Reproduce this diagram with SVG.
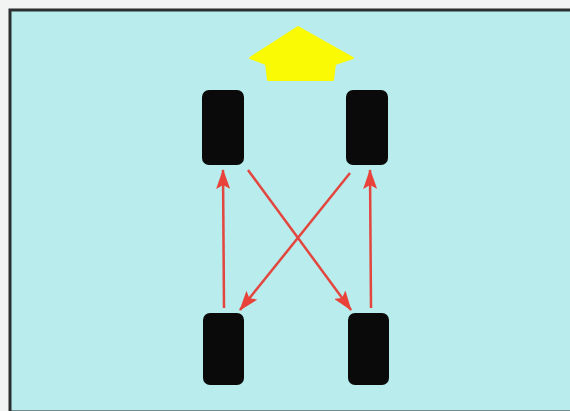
<svg xmlns="http://www.w3.org/2000/svg" width="570" height="411" viewBox="0 0 570 411">
<defs>
<style>
.tire{fill:#0a0a0a}
.conn{stroke:#e2463f;stroke-width:2.5;fill:none;marker-end:url(#ah)}
</style>
<marker id="ah" viewBox="0 0 20 14" refX="19" refY="7" markerWidth="20" markerHeight="14" markerUnits="userSpaceOnUse" orient="auto">
<path d="M0,0 L20,7 L0,14 L4,7 Z" fill="#e8423a"/>
</marker>
</defs>
<rect x="0" y="0" width="570" height="411" fill="#f2f4f4"/>
<rect x="10" y="10" width="562" height="402" fill="#b9ecec" stroke="#2a2f2f" stroke-width="3"/>
<g id="forward-arrow">
<polygon points="298,27 353,58 335,64 333,80 268,80 266,64 250,58" fill="#fafa05" stroke="#fafa05" stroke-width="2" stroke-linejoin="round"/>
</g>
<g id="tire-front-left"><rect class="tire" x="202" y="90" width="42" height="75" rx="7"/></g>
<g id="tire-front-right"><rect class="tire" x="346" y="90" width="42" height="75" rx="7"/></g>
<g id="tire-rear-left"><rect class="tire" x="203" y="313" width="41" height="72" rx="7"/></g>
<g id="tire-rear-right"><rect class="tire" x="348" y="313" width="41" height="72" rx="7"/></g>
<g id="connectors">
<line class="conn" x1="224" y1="308" x2="223" y2="170"/>
<line class="conn" x1="371" y1="308" x2="370" y2="170"/>
<line class="conn" x1="248" y1="170" x2="351" y2="310"/>
<line class="conn" x1="350" y1="173" x2="240" y2="310"/>
</g>
</svg>
